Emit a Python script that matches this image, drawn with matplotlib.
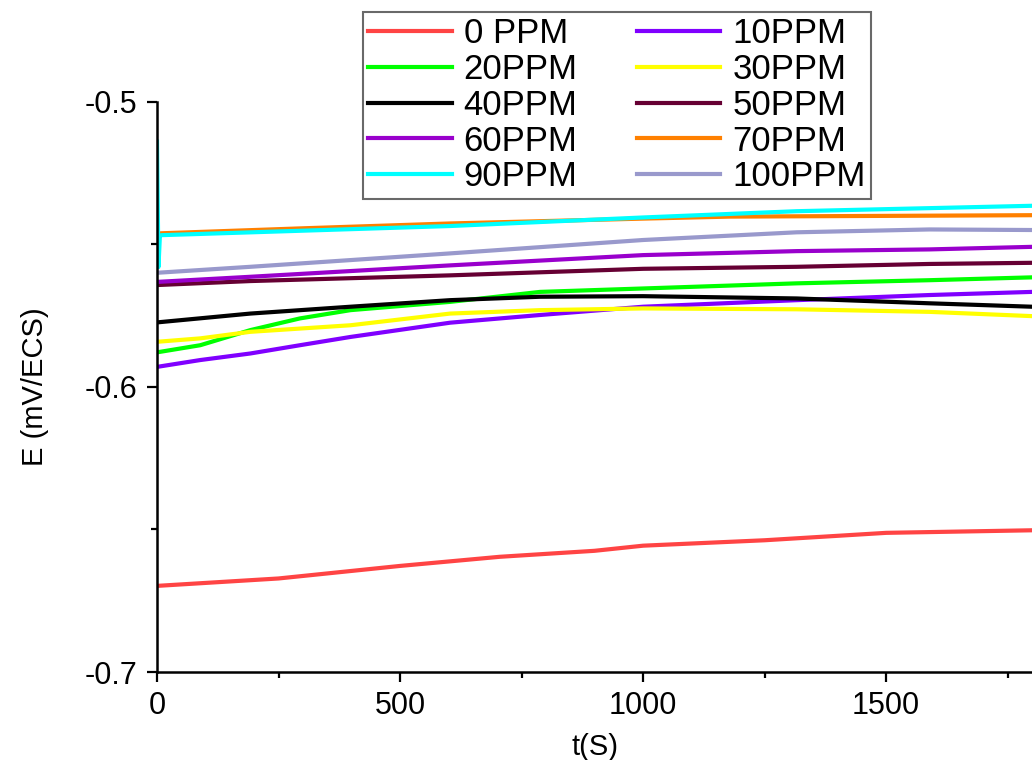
import matplotlib
matplotlib.use("Agg")
import matplotlib.pyplot as plt
from matplotlib.ticker import MultipleLocator

plt.rcParams['font.family'] = ['Liberation Sans', 'DejaVu Sans']
plt.rcParams['axes.unicode_minus'] = False

# open circuit potential vs time
t_0 = [0, 250, 500, 705, 900, 1000, 1250, 1500, 1800]
e_0 = [-0.6698, -0.6672, -0.6628, -0.6596, -0.6575, -0.6557, -0.6538, -0.6512, -0.6503]

t_10 = [0, 89, 192, 294, 398, 603, 788, 1000, 1316, 1589, 1800]
e_10 = [-0.5930, -0.5906, -0.5883, -0.5854, -0.5825, -0.5775, -0.5748, -0.5719, -0.5696, -0.5678, -0.5667]

t_20 = [0, 89, 192, 294, 398, 603, 788, 1000, 1316, 1589, 1800]
e_20 = [-0.5879, -0.5854, -0.5801, -0.5760, -0.5731, -0.5702, -0.5667, -0.5655, -0.5637, -0.5626, -0.5616]

t_30 = [0, 89, 192, 398, 603, 788, 1000, 1316, 1589, 1800]
e_30 = [-0.5842, -0.5830, -0.5807, -0.5784, -0.5743, -0.5731, -0.5725, -0.5728, -0.5737, -0.5752]

t_40 = [0, 192, 398, 603, 788, 1000, 1316, 1589, 1800]
e_40 = [-0.5774, -0.5743, -0.5719, -0.5696, -0.5684, -0.5682, -0.5690, -0.5707, -0.5719]

t_50 = [0, 192, 603, 1000, 1316, 1589, 1800]
e_50 = [-0.5643, -0.5629, -0.5609, -0.5586, -0.5579, -0.5569, -0.5565]

t_60 = [0, 192, 603, 1000, 1316, 1589, 1800]
e_60 = [-0.5632, -0.5614, -0.5574, -0.5538, -0.5524, -0.5518, -0.5509]

t_70 = [0, 300, 603, 1000, 1178, 1800]
e_70 = [-0.5462, -0.5444, -0.5427, -0.5410, -0.5403, -0.5398]

t_90 = [0, 3, 6, 10, 603, 1000, 1316, 1800]
e_90 = [-0.514, -0.558, -0.547, -0.5468, -0.5436, -0.5406, -0.5384, -0.5365]

t_100 = [0, 192, 603, 1000, 1316, 1589, 1800]
e_100 = [-0.5600, -0.5579, -0.5532, -0.5485, -0.5458, -0.5448, -0.5450]

series = [
    (t_0, e_0, '0 PPM', '#ff4444'),
    (t_10, e_10, '10PPM', '#8000ff'),
    (t_20, e_20, '20PPM', '#00ff00'),
    (t_30, e_30, '30PPM', '#ffff00'),
    (t_40, e_40, '40PPM', '#000000'),
    (t_50, e_50, '50PPM', '#660033'),
    (t_60, e_60, '60PPM', '#9900cc'),
    (t_70, e_70, '70PPM', '#ff8000'),
    (t_90, e_90, '90PPM', '#00ffff'),
    (t_100, e_100, '100PPM', '#9999cc'),
]

fig = plt.figure(figsize=(10.32, 7.6), dpi=100)
ax = fig.add_axes([157 / 1032, 88 / 760, 1 - 157 / 1032, (672 - 101.7) / 760])

handles = []
for t, e, lab, col in series:
    h, = ax.plot(t, e, color=col, lw=3, label=lab)
    handles.append(h)

ax.set_xlim(0, 1800)
ax.set_ylim(-0.7, -0.5)
ax.xaxis.set_major_locator(MultipleLocator(500))
ax.xaxis.set_minor_locator(MultipleLocator(250))
ax.yaxis.set_major_locator(MultipleLocator(0.1))
ax.yaxis.set_minor_locator(MultipleLocator(0.05))

ax.spines['top'].set_visible(False)
ax.spines['right'].set_visible(False)
for s in ['left', 'bottom']:
    ax.spines[s].set_linewidth(1.8)

ax.tick_params(which='major', direction='out', length=7, width=1.6, labelsize=22, pad=7)
ax.tick_params(which='minor', direction='out', length=4, width=1.6)

ax.set_xlabel('t(S)', fontsize=21, labelpad=8)
ax.set_ylabel('E (mV/ECS)', fontsize=21, labelpad=26)

# legend filled row by row: even entries left column, odd entries right column
order = list(range(0, 10, 2)) + list(range(1, 10, 2))
leg = ax.legend([handles[i] for i in order], [series[i][2] for i in order],
                ncol=2, loc='upper left', bbox_to_anchor=(363 / 1032, 1 - 12 / 760),
                bbox_transform=fig.transFigure, fontsize=25, frameon=True, fancybox=False,
                edgecolor='#444444', handlelength=2.4, handletextpad=0.35,
                columnspacing=1.7, labelspacing=0.08, borderpad=0.15, borderaxespad=0)
leg.get_frame().set_linewidth(1.5)

fig.savefig('out.png', dpi=100)
